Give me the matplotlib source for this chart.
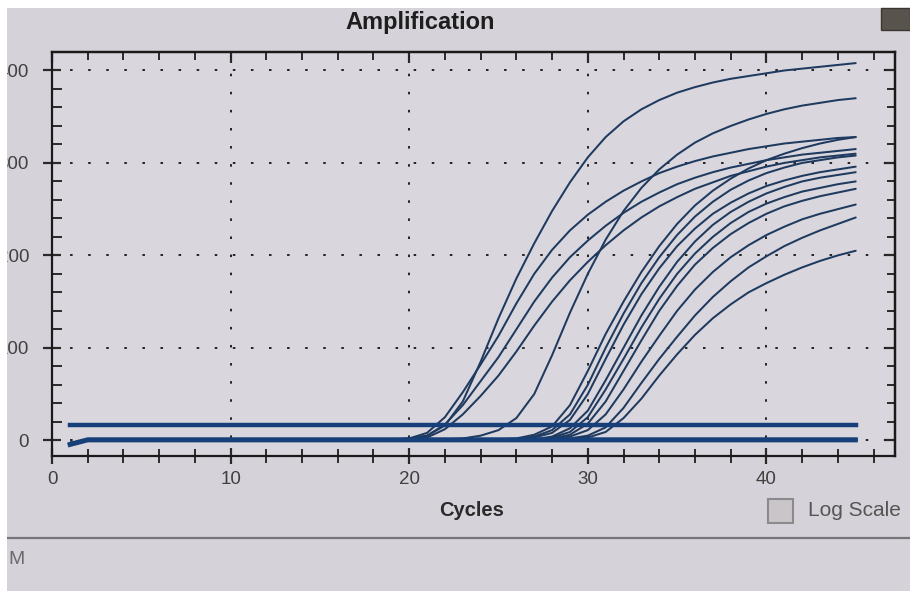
import matplotlib
matplotlib.use("Agg")
import matplotlib.pyplot as plt
from matplotlib.patches import Rectangle
from matplotlib.lines import Line2D
from matplotlib.ticker import MultipleLocator

plt.rcParams['font.family'] = ['Liberation Sans', 'DejaVu Sans']

# ---------------- data ----------------
cycles = list(range(1, 46))

curve_a = [-3] + [0] * 17 + [1, 2, 5, 16, 42, 85, 132, 175, 213, 248, 279, 306, 328, 345,
                             358, 368, 376, 382, 387, 391, 394, 397, 400, 402, 404, 406, 408]
curve_b = [-3] + [0] * 18 + [2, 8, 25, 52, 82, 113, 148, 180, 206, 227, 244, 258, 270, 280,
                             289, 296, 302, 307, 311, 315, 318, 321, 323, 325, 327, 328]
curve_c = [-3] + [0] * 18 + [1, 5, 17, 38, 64, 90, 120, 150, 176, 198, 216, 232, 246, 258,
                             268, 277, 284, 290, 295, 299, 303, 306, 309, 311, 313, 315]
curve_d = [-3] + [0] * 18 + [1, 3, 12, 28, 48, 70, 96, 124, 150, 173, 193, 211, 227, 241,
                             253, 263, 272, 279, 286, 291, 296, 300, 303, 306, 308, 310]
curve_e = [-3] + [0] * 20 + [1, 2, 5, 11, 24, 50, 92, 138, 180, 217, 248, 273, 293, 309, 322,
                             332, 340, 347, 353, 358, 362, 365, 368, 370]
curve_l1 = [-3] + [0] * 23 + [1, 2, 6, 15, 38, 75, 115, 150, 182, 210, 234, 254, 270, 283, 294,
                              303, 310, 316, 321, 325, 328]
curve_l2 = [-3] + [0] * 24 + [1, 4, 11, 28, 60, 100, 137, 170, 198, 222, 242, 258, 271, 281,
                              289, 295, 300, 303, 306, 308]
curve_l3 = [-3] + [0] * 24 + [1, 3, 8, 22, 50, 88, 125, 158, 186, 210, 229, 245, 257, 267,
                              275, 281, 286, 290, 293, 296]
curve_l4 = [-3] + [0] * 25 + [1, 4, 13, 32, 65, 100, 135, 166, 193, 215, 233, 247, 258, 267,
                              274, 280, 284, 287, 290]
curve_l5 = [-3] + [0] * 25 + [1, 3, 9, 25, 55, 88, 122, 153, 180, 202, 220, 235, 247, 256,
                              263, 269, 273, 277, 280]
curve_l6 = [-3] + [0] * 26 + [2, 6, 18, 42, 75, 108, 140, 167, 190, 208, 223, 235, 245, 253,
                              259, 264, 268, 272]
curve_l7 = [-3] + [0] * 26 + [1, 4, 11, 28, 55, 85, 113, 140, 163, 182, 198, 211, 222, 231,
                              239, 245, 250, 255]
curve_l8 = [-3] + [0] * 27 + [2, 5, 14, 35, 62, 88, 112, 135, 155, 172, 187, 199, 210, 219,
                              227, 234, 241]
curve_l9 = [-3] + [0] * 27 + [1, 3, 9, 24, 45, 70, 93, 114, 132, 147, 160, 170, 179, 187,
                              194, 200, 205]
ntc_1 = [-5] + [0] * 44
ntc_2 = [-4] + [1] * 44

threshold = 16

amp_curves = [curve_a, curve_b, curve_c, curve_d, curve_e, curve_l1, curve_l2, curve_l3,
              curve_l4, curve_l5, curve_l6, curve_l7, curve_l8, curve_l9]

x_ticks = [0, 10, 20, 30, 40]
y_ticks = [0, 100, 200, 300, 400]
y_tick_labels = ['0', '100', '200', '300', '400']

# ---------------- figure ----------------
W, H = 910, 591
bg = '#d6d2d9'
fig = plt.figure(figsize=(W / 100, H / 100), dpi=100, facecolor=bg)
ax = fig.add_axes([52 / W, 1 - 456 / H, 843 / W, (456 - 52) / H])
ax.set_facecolor('#dad6dd')

line_col = '#1e3a5f'
for cv in amp_curves:
    ax.plot(cycles, cv, color=line_col, lw=1.45, solid_capstyle='round', zorder=3)
for cv in (ntc_1, ntc_2):
    ax.plot(cycles, cv, color='#173f7a', lw=3.0, zorder=3)
ax.plot([cycles[0], cycles[-1]], [threshold, threshold], color='#173f7a', lw=3.2, zorder=4)

ax.set_xlim(0, 47.2)
ax.set_ylim(-17, 420)

ax.xaxis.set_minor_locator(MultipleLocator(2))
ax.yaxis.set_minor_locator(MultipleLocator(20))
ax.set_xticks(x_ticks)
ax.set_yticks(y_ticks)
ax.set_yticklabels(y_tick_labels)

ax.grid(True, which='major', color='#222222', linestyle=(0, (1.3, 8)), lw=1.4, zorder=1)

tick_col = '#2a2a2a'
ax.tick_params(axis='x', which='major', direction='inout', length=12, width=1.6,
               color=tick_col, labelsize=13.5, labelcolor='#404040', pad=5)
ax.tick_params(axis='x', which='minor', direction='inout', length=10, width=1.4, color=tick_col)
ax.tick_params(axis='y', which='major', direction='inout', length=13, width=1.6,
               color=tick_col, labelsize=13.5, labelcolor='#404040', pad=10)
ax.tick_params(axis='y', which='minor', direction='in', length=7, width=1.4, color=tick_col)

for s in ax.spines.values():
    s.set_color('#1a1a1a')
    s.set_linewidth(1.6)

secx = ax.secondary_xaxis('top')
secx.xaxis.set_major_locator(MultipleLocator(10))
secx.xaxis.set_minor_locator(MultipleLocator(2))
secx.tick_params(which='major', direction='in', length=8, width=1.6, color=tick_col, labeltop=False)
secx.tick_params(which='minor', direction='in', length=6, width=1.4, color=tick_col)
secx.spines['top'].set_linewidth(1.6)

secy = ax.secondary_yaxis('right')
secy.yaxis.set_major_locator(MultipleLocator(100))
secy.yaxis.set_minor_locator(MultipleLocator(20))
secy.tick_params(which='major', direction='in', length=8, width=1.6, color=tick_col, labelright=False)
secy.tick_params(which='minor', direction='in', length=6, width=1.4, color=tick_col)
secy.spines['right'].set_linewidth(1.6)

# texts
fig.text(420 / W, 1 - 23 / H, 'Amplification', ha='center', va='center',
         fontsize=17, fontweight='bold', color='#1e1e1e')
fig.text(472 / W, 1 - 511 / H, 'Cycles', ha='center', va='center',
         fontsize=14.5, fontweight='bold', color='#2a2a2a')
fig.text(808 / W, 1 - 511 / H, 'Log Scale', ha='left', va='center',
         fontsize=15, color='#555555')
fig.add_artist(Rectangle((768 / W, 1 - 523 / H), 25 / W, 24 / H, transform=fig.transFigure,
                         facecolor='#c9c5c9', edgecolor='#8c8a8c', lw=1.5))
fig.add_artist(Line2D([0, 1], [1 - 538 / H, 1 - 538 / H], transform=fig.transFigure,
                      color='#77757a', lw=1.6))
fig.text(8 / W, 1 - 560 / H, 'M', ha='left', va='center', fontsize=14, color='#6a6a6a')

# photo borders and corner icon
fig.add_artist(Rectangle((0, 1 - 8 / H), 1, 8 / H, transform=fig.transFigure,
                         facecolor='white', edgecolor='none', zorder=10))
fig.add_artist(Rectangle((0, 0), 7 / W, 1, transform=fig.transFigure,
                         facecolor='white', edgecolor='none', zorder=10))
fig.add_artist(Rectangle((881 / W, 1 - 30 / H), 29 / W, 22 / H, transform=fig.transFigure,
                         facecolor='#58534d', edgecolor='#3a3632', lw=1, zorder=11))

fig.savefig('out.png', dpi=100, facecolor=bg)
